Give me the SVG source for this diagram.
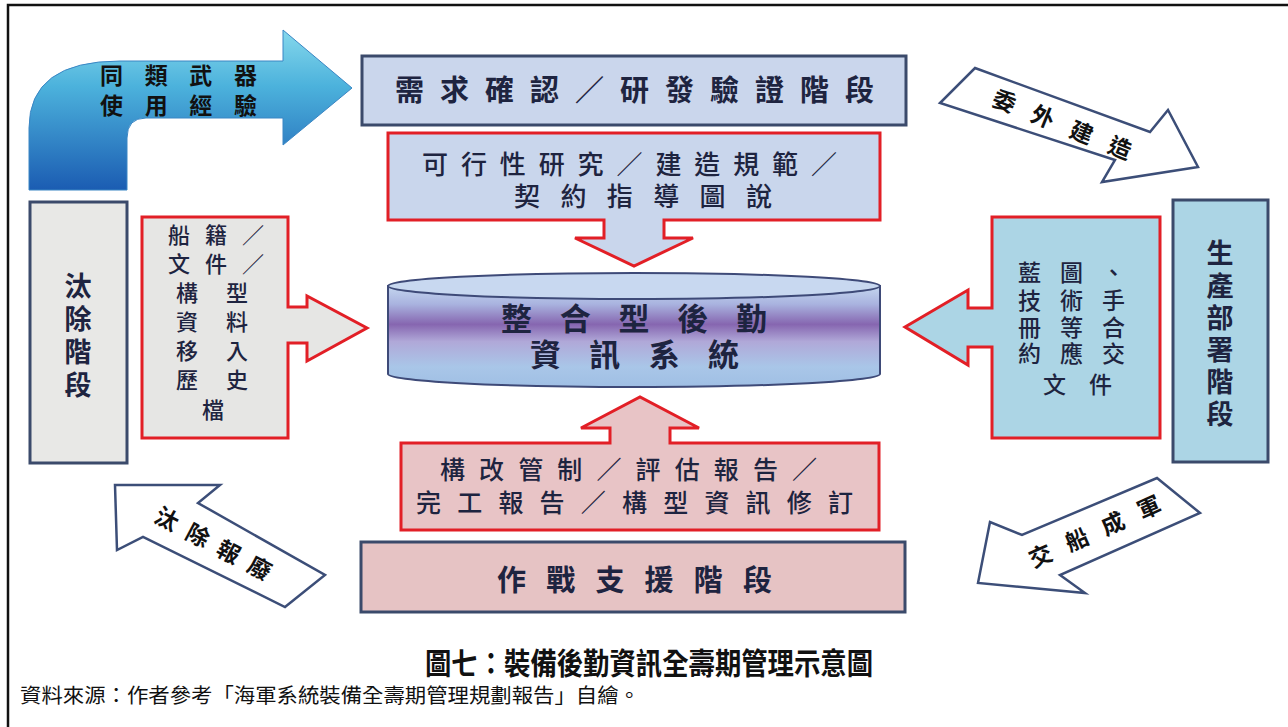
<svg xmlns="http://www.w3.org/2000/svg" width="1288" height="727" viewBox="0 0 1288 727">
<style>
.t{font-family:"Noto Sans CJK TC","Noto Sans CJK SC",sans-serif;fill:#1e2440}
.b{font-weight:700}
.m{font-weight:500}
.blk{fill:#111}
.ph{stroke:#3b4a6b;stroke-width:3}
.rd{stroke:#e21f26;stroke-width:3}
.ca{fill:#ffffff;stroke:#3c4e78;stroke-width:2.5;stroke-linejoin:miter}
</style>
<defs>
<linearGradient id="gBlue" x1="0" y1="30" x2="0" y2="190" gradientUnits="userSpaceOnUse">
<stop offset="0" stop-color="#86d8ec"/>
<stop offset="0.35" stop-color="#4cb2dc"/>
<stop offset="1" stop-color="#1b5cb2"/>
</linearGradient>
<linearGradient id="gCyl" x1="0" y1="286" x2="0" y2="387" gradientUnits="userSpaceOnUse">
<stop offset="0" stop-color="#c4d6ef"/>
<stop offset="0.18" stop-color="#a9b3df"/>
<stop offset="0.38" stop-color="#8666b0"/>
<stop offset="0.55" stop-color="#b0a8d8"/>
<stop offset="0.8" stop-color="#a9c6e8"/>
<stop offset="1" stop-color="#9fbfe4"/>
</linearGradient>
</defs>
<rect width="1288" height="727" fill="#ffffff"/>
<path d="M8,727 V5 H1288" fill="none" stroke="#111" stroke-width="2.5"/>

<g id="connectors">
<g id="arrow-experience">
<path d="M29,190 V128 Q29,61 120,61 H283 V30 L352,88 L283,145 V118 H146 Q127,118 127,138 V190 Z" fill="url(#gBlue)" stroke="#3a86c4" stroke-width="1"/>
<text class="t b blk" x="100" y="84" font-size="23" textLength="157" lengthAdjust="spacing">同類武器</text>
<text class="t b blk" x="100" y="114" font-size="23" textLength="157" lengthAdjust="spacing">使用經驗</text>
</g>
<g id="arrow-outsource">
<polygon class="ca" points="975,68 1150,132 1168,110 1198,167 1102,182 1115,160 940,103"/>
<text class="t b blk" font-size="23" text-anchor="middle" transform="translate(1062,125) rotate(22)" y="8" textLength="148" lengthAdjust="spacing">委外建造</text>
</g>
<g id="arrow-deliver">
<polygon class="ca" points="978,583 990,522 1022,535 1157,478 1200,513 1060,575 1085,593"/>
<text class="t b blk" font-size="23" text-anchor="middle" transform="translate(1095,532) rotate(-24)" y="8" textLength="142" lengthAdjust="spacing">交船成軍</text>
</g>
<g id="arrow-retire">
<polygon class="ca" points="115,485 220,485 198,503 325,575 285,607 143,537 117,550"/>
<text class="t b blk" font-size="23" text-anchor="middle" transform="translate(213,544) rotate(28)" y="8" textLength="128" lengthAdjust="spacing">汰除報廢</text>
</g>
</g>

<g id="node-req">
<rect class="ph" x="362" y="56" width="544" height="69" fill="#cad6ec"/>
<text class="t b" x="395" y="101" font-size="29" textLength="479" lengthAdjust="spacing">需求確認／研發驗證階段</text>
</g>

<g id="node-feasibility">
<path class="rd" d="M388,133 H880 V220 H664 V238 H693 L634,266 L575,238 H604 V220 H388 Z" fill="#c9d6ec"/>
<text class="t m" x="422" y="174" font-size="26" textLength="415" lengthAdjust="spacing">可行性研究／建造規範／</text>
<text class="t m" x="514" y="206" font-size="26" textLength="258" lengthAdjust="spacing">契約指導圖說</text>
</g>

<g id="node-ils">
<path d="M388,286 V374 A246,13 0 0 0 880,374 V286 Z" fill="url(#gCyl)" stroke="#3e4a78" stroke-width="2"/>
<ellipse cx="634" cy="286" rx="246" ry="13" fill="#c8d8f0" stroke="#3e4a78" stroke-width="2"/>
<text class="t b" x="501" y="330" font-size="31" textLength="266" lengthAdjust="spacing">整合型後勤</text>
<text class="t b" x="530" y="366" font-size="31" textLength="209" lengthAdjust="spacing">資訊系統</text>
</g>

<g id="node-config">
<path class="rd" d="M401,443 H610 V428 H581 L640,397 L699,428 H670 V443 H879 V530 H401 Z" fill="#e8c4c6"/>
<text class="t m" x="440" y="479" font-size="25" textLength="377" lengthAdjust="spacing">構改管制／評估報告／</text>
<text class="t m" x="416" y="512" font-size="25" textLength="437" lengthAdjust="spacing">完工報告／構型資訊修訂</text>
</g>

<g id="node-ops">
<rect class="ph" x="361" y="542" width="544" height="70" fill="#e6c3c4"/>
<text class="t b" x="497" y="591" font-size="29" textLength="275" lengthAdjust="spacing">作戰支援階段</text>
</g>

<g id="node-dispose">
<rect class="ph" x="30" y="202" width="97" height="261" fill="#e8e8e6"/>
<g class="t b" font-size="27" text-anchor="middle">
<text x="78" y="296">汰</text>
<text x="78" y="329">除</text>
<text x="78" y="362">階</text>
<text x="78" y="395">段</text>
</g>
</g>

<g id="node-archive">
<path class="rd" d="M142,217 H288 V307 H307 V296 L367,328 L307,361 V343 H288 V438 H142 Z" fill="#e6e6e4"/>
<g class="t m" font-size="22">
<text x="168" y="243" textLength="96" lengthAdjust="spacing">船籍／</text>
<text x="168" y="272" textLength="96" lengthAdjust="spacing">文件／</text>
<text x="176" y="301" textLength="72" lengthAdjust="spacing">構型</text>
<text x="176" y="330" textLength="72" lengthAdjust="spacing">資料</text>
<text x="176" y="359" textLength="72" lengthAdjust="spacing">移入</text>
<text x="176" y="388" textLength="72" lengthAdjust="spacing">歷史</text>
<text x="202" y="418">檔</text>
</g>
</g>

<g id="node-deliverables">
<path class="rd" d="M992,217 H1160 V438 H992 V347 H968 V365 L905,327 L968,290 V308 H992 Z" fill="#acd5e5"/>
<g class="t m" font-size="23">
<text x="1018" y="281" textLength="107" lengthAdjust="spacing">藍圖、</text>
<text x="1018" y="309" textLength="107" lengthAdjust="spacing">技術手</text>
<text x="1018" y="336" textLength="107" lengthAdjust="spacing">冊等合</text>
<text x="1018" y="362" textLength="107" lengthAdjust="spacing">約應交</text>
<text x="1043" y="393" textLength="69" lengthAdjust="spacing">文件</text>
</g>
</g>

<g id="node-production">
<rect class="ph" x="1173" y="200" width="95" height="262" fill="#acd5e5"/>
<g class="t b" font-size="27" text-anchor="middle">
<text x="1220" y="263">生</text>
<text x="1220" y="296">產</text>
<text x="1220" y="328">部</text>
<text x="1220" y="360">署</text>
<text x="1220" y="392">階</text>
<text x="1220" y="424">段</text>
</g>
</g>

<g id="caption">
<text class="t b blk" x="425" y="674" font-size="30" textLength="448" lengthAdjust="spacingAndGlyphs">圖七：裝備後勤資訊全壽期管理示意圖</text>
<text class="t blk" x="20" y="703" font-size="20" textLength="620" lengthAdjust="spacingAndGlyphs">資料來源：作者參考「海軍系統裝備全壽期管理規劃報告」自繪。</text>
</g>
</svg>
